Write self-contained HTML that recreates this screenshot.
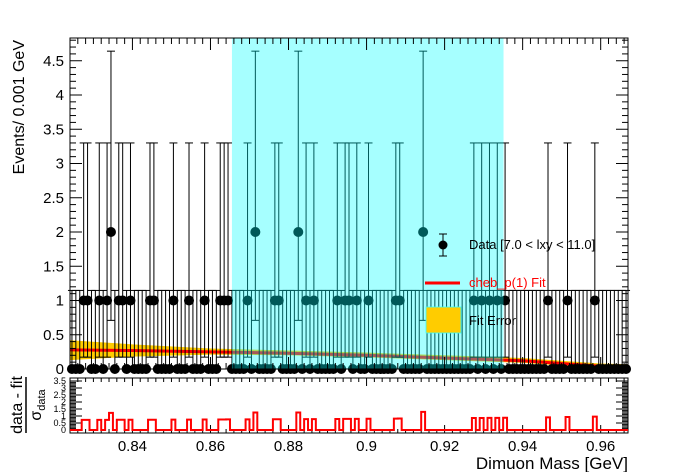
<!DOCTYPE html>
<html><head><meta charset="utf-8"><style>
html,body{margin:0;padding:0;background:#fff;}
svg{display:block;font-family:"Liberation Sans",Arial,sans-serif;}
</style></head><body>
<svg id="c" width="696" height="472" viewBox="0 0 696 472"></svg>
<script>
const NS="http://www.w3.org/2000/svg";
// data
const binLo=0.824, binW=0.001, nBins=143;
const oneBins=[3,4,7,9,12,13,15,20,21,26,30,34,38,39,40,45,52,53,60,62,68,70,71,73,76,83,84,103,105,107,109,111,122,127,134];
const twoBins=[10,47,58,90];
const fitX=[0.824,0.84,0.86,0.88,0.90,0.92,0.94,0.96,0.967];
const fitY=[0.28,0.27,0.25,0.23,0.20,0.16,0.12,0.04,0.02];
const errHi=[0.42,0.36,0.30,0.27,0.24,0.20,0.16,0.08,0.07];
const errLo=[0.13,0.18,0.21,0.20,0.17,0.13,0.09,0.01,0.0];
const xTicks=[0.84,0.86,0.88,0.9,0.92,0.94,0.96];
const xTickLabels=["0.84","0.86","0.88","0.9","0.92","0.94","0.96"];
const yTicks=[0,0.5,1,1.5,2,2.5,3,3.5,4,4.5];
const yTickLabels=["0","0.5","1","1.5","2","2.5","3","3.5","4","4.5"];
const rTicks=[0,0.5,1,1.5,2,2.5,3,3.5];
const rTickLabels=["0","0.5","1","1.5","2","2.5","3","3.5"];
const bandLo=0.8655, bandHi=0.9351;
// axes
const L=70,R=628,T=38,B=369,RT=378,RB=433;
const X=m=>L+(m-binLo)*(R-L)/(nBins*binW);
const Y=v=>B-68.5*v;
const RY=v=>430-14*v;
const svg=document.getElementById('c');
function el(t,a,p){const e=document.createElementNS(NS,t);for(const k in a)e.setAttribute(k,a[k]);(p||svg).appendChild(e);return e;}
const counts=new Array(nBins).fill(0);
oneBins.forEach(k=>counts[k]=1);twoBins.forEach(k=>counts[k]=2);
const eUp={0:1.147,1:2.3,2:2.64}, eDn={0:0,1:0.827,2:1.29};
const fit=m=>{for(let i=0;i<fitX.length-1;i++){if(m<=fitX[i+1]){const t=(m-fitX[i])/(fitX[i+1]-fitX[i]);return fitY[i]+t*(fitY[i+1]-fitY[i]);}}return fitY[fitY.length-1];};
// fit band
let pts=fitX.map((m,i)=>X(m)+","+Y(errHi[i]));
pts=pts.concat(fitX.slice().reverse().map((m,i)=>X(m)+","+Y(errLo[fitX.length-1-i])));
const band=el('polygon',{points:pts.join(" "),fill:"#ffcc00"});


// fit line
const fl=el('polyline',{points:fitX.map((m,i)=>X(m)+","+Y(fitY[i])).join(" "),fill:"none",stroke:"#ff0000","stroke-width":3});


// data points
const g=el('g',{});


for(let k=0;k<nBins;k++){
  const c=counts[k], m=binLo+(k+0.5)*binW, x=X(m);
  const yt=Y(c+eUp[c]), yb=Y(c-eDn[c]), yc=Y(c);
  el('line',{x1:x,x2:x,y1:yt,y2:yb,stroke:"#000","stroke-width":1},g);
  el('line',{x1:x-4,x2:x+4,y1:yt,y2:yt,stroke:"#000","stroke-width":1},g);
  if(c>0)el('line',{x1:x-4,x2:x+4,y1:yb,y2:yb,stroke:"#000","stroke-width":1},g);
  const p=el('circle',{cx:x,cy:yc,r:5,fill:"#000"},g);
  
  
}
// cyan band
const cb=el('rect',{x:X(bandLo),y:T,width:X(bandHi)-X(bandLo),height:B-T,fill:"#00ffff","fill-opacity":0.35});


// frames
el('rect',{x:L,y:T,width:R-L,height:B-T,fill:"none",stroke:"#000"});
el('rect',{x:L,y:RT,width:R-L,height:RB-RT,fill:"none",stroke:"#000"});
// y ticks main
for(let v=0;v<=4.83;v+=0.1){const y=Y(v),maj=Math.abs(v/0.5-Math.round(v/0.5))<0.01;const len=maj?12:6;
 el('line',{x1:L,x2:L+len,y1:y,y2:y,stroke:"#000"});el('line',{x1:R,x2:R-len,y1:y,y2:y,stroke:"#000"});}
yTicks.forEach((v,i)=>{const t=el('text',{x:64,y:Y(v)+5,"text-anchor":"end","font-size":15});t.textContent=yTickLabels[i];
 });
// x ticks
for(let i=0;i<=71;i++){const m=0.824+i*0.002,x=X(m);const maj=Math.abs(m/0.02-Math.round(m/0.02))<0.01;const len=maj?12:6;
 el('line',{x1:x,x2:x,y1:B,y2:B-len,stroke:"#000"});el('line',{x1:x,x2:x,y1:T,y2:T+len,stroke:"#000"});
 el('line',{x1:x,x2:x,y1:RB,y2:RB-(maj?8:4),stroke:"#000"});el('line',{x1:x,x2:x,y1:RT,y2:RT+(maj?8:4),stroke:"#000"});}
xTicks.forEach((m,i)=>{const t=el('text',{x:X(m),y:451,"text-anchor":"middle","font-size":15});t.textContent=xTickLabels[i];
 });
// ratio ticks
for(let v=0;v<=3.6;v+=0.1){const y=RY(v),maj=Math.abs(v/0.5-Math.round(v/0.5))<0.01;
 el('line',{x1:L,x2:L+(maj?12:6),y1:y,y2:y,stroke:"#000"});el('line',{x1:R,x2:R-(maj?12:6),y1:y,y2:y,stroke:"#000"});}
rTicks.forEach((v,i)=>{const t=el('text',{x:66,y:RY(v)+3,"text-anchor":"end","font-size":9});t.textContent=rTickLabels[i];
 });
// residuals
let rp=[];
for(let k=0;k<nBins;k++){const c=counts[k],m=binLo+(k+0.5)*binW;const f=fit(m);
 const r=c>0?(c-f)/Math.sqrt(c):0;const x0=X(binLo+k*binW),x1=X(binLo+(k+1)*binW);
 rp.push(x0+","+RY(r),x1+","+RY(r));}
const rl=el('polyline',{points:rp.join(" "),fill:"none",stroke:"#ff0000","stroke-width":2});


// titles
const yt=el('text',{transform:"translate(24,40) rotate(-90)","text-anchor":"end","font-size":16});yt.textContent="Events/ 0.001 GeV";

const xt=el('text',{x:628,y:469,"text-anchor":"end","font-size":17});xt.textContent="Dimuon Mass [GeV]";

const rg=el('g',{transform:"translate(22,405) rotate(-90)"});

el('text',{x:0,y:0,"text-anchor":"middle","font-size":16},rg).textContent="data - fit";
el('line',{x1:-28,x2:28,y1:4,y2:4,stroke:"#000","stroke-width":1.5},rg);
const s=el('text',{x:0,y:19,"text-anchor":"middle","font-size":16},rg);s.innerHTML='σ<tspan font-size="11" dy="4">data</tspan>';
// legend
const lg=el('g',{});
el('line',{x1:443,x2:443,y1:234,y2:256,stroke:"#000"},lg);
el('line',{x1:439,x2:447,y1:234,y2:234,stroke:"#000"},lg);el('line',{x1:439,x2:447,y1:256,y2:256,stroke:"#000"},lg);
el('circle',{cx:443,cy:245,r:4.5,fill:"#000"},lg);
el('text',{x:469,y:249,"font-size":13},lg).textContent="Data [7.0 < lxy < 11.0]";
el('line',{x1:425,x2:460,y1:283,y2:283,stroke:"#ff0000","stroke-width":3},lg);
el('text',{x:469,y:287,"font-size":13,fill:"#ff0000"},lg).textContent="cheb_p(1) Fit";
el('rect',{x:426,y:307,width:35,height:26,fill:"#ffcc00",stroke:"#33ffff","stroke-width":0.8},lg);
el('text',{x:469,y:325,"font-size":13},lg).textContent="Fit Error";
</script>
</body></html>
